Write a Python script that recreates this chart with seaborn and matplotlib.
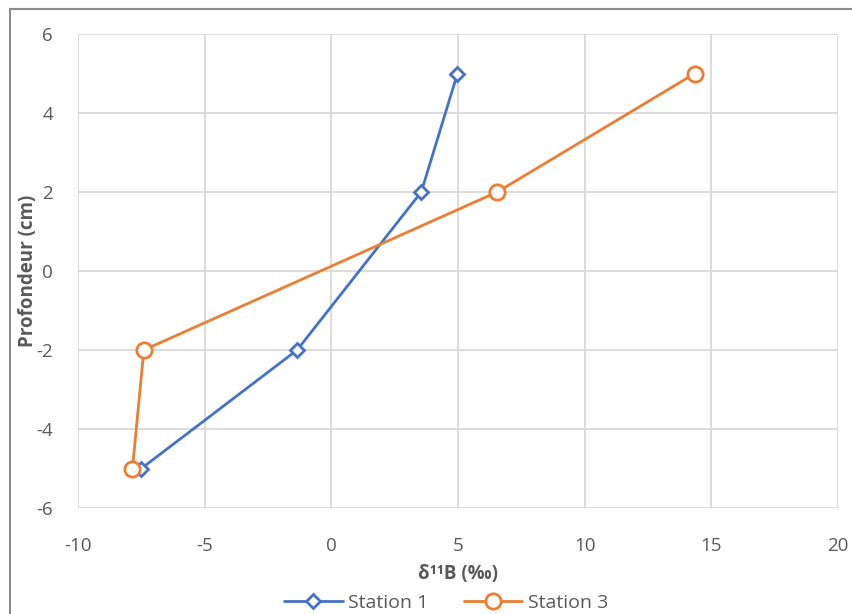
import numpy as np
import pandas as pd
import matplotlib
matplotlib.use("Agg")
import matplotlib.pyplot as plt
import seaborn as sns
from matplotlib.patches import Rectangle
from matplotlib.lines import Line2D

# data
depth = [5, 2, -2, -5]
station1 = [4.98, 3.55, -1.35, -7.5]
station3 = [14.35, 6.55, -7.4, -7.85]

blue = '#4472C4'
orange = '#ED7D31'
grid_color = '#D9D9D9'
text_color = '#595959'

sns.set_style('white')
plt.rcParams['font.family'] = ['Open Sans', 'DejaVu Sans']
plt.rcParams['axes.unicode_minus'] = False

fig = plt.figure(figsize=(8.53, 6.14), dpi=100)
ax = fig.add_axes([78 / 853, 1 - 508 / 614, (838 - 78) / 853, (508 - 34) / 614])

df1 = pd.DataFrame({'x': station1, 'y': depth})
df3 = pd.DataFrame({'x': station3, 'y': depth})

sns.lineplot(data=df1, x='x', y='y', sort=False, color=blue, linewidth=2,
             marker='D', markersize=7, markerfacecolor='white',
             markeredgecolor=blue, markeredgewidth=2, ax=ax, zorder=3)
sns.lineplot(data=df3, x='x', y='y', sort=False, color=orange, linewidth=2,
             marker='o', markersize=11, markerfacecolor='white',
             markeredgecolor=orange, markeredgewidth=2, ax=ax, zorder=3)

ax.set_xlim(-10, 20)
ax.set_ylim(-6, 6)
ax.set_xticks(np.arange(-10, 21, 5))
ax.set_yticks(np.arange(-6, 7, 2))
ax.grid(True, color=grid_color, linewidth=1.3)
ax.set_axisbelow(True)
for s in ax.spines.values():
    s.set_visible(False)
ax.tick_params(axis='both', length=0, labelsize=13.5, labelcolor=text_color)
ax.tick_params(axis='x', pad=21)
ax.tick_params(axis='y', pad=18)

ax.set_xlabel('δ¹¹B (‰)', fontsize=13.5, fontweight='bold', color=text_color, labelpad=6)
ax.set_ylabel('Profondeur (cm)', fontsize=13.5, fontweight='bold', color=text_color)
ax.yaxis.set_label_coords(-40 / 760, 0.5)

handles = [
    Line2D([0], [0], color=blue, lw=2, marker='D', markersize=7,
           markerfacecolor='white', markeredgecolor=blue, markeredgewidth=2),
    Line2D([0], [0], color=orange, lw=2, marker='o', markersize=11,
           markerfacecolor='white', markeredgecolor=orange, markeredgewidth=2),
]
leg = fig.legend(handles, ['Station 1', 'Station 3'], loc='center',
                 bbox_to_anchor=(0.523, 1 - 603 / 614), ncol=2, frameon=False,
                 fontsize=14, handlelength=3.0, columnspacing=1.8, handletextpad=0.3)
for t in leg.get_texts():
    t.set_color(text_color)

# outer chart frame
fig.add_artist(Rectangle((10 / 853, -0.05), 1.1, 1 - 9 / 614 + 0.05,
                         transform=fig.transFigure, fill=False,
                         edgecolor='#8C8C8C', linewidth=1.5))

fig.savefig('out.png', dpi=100)
